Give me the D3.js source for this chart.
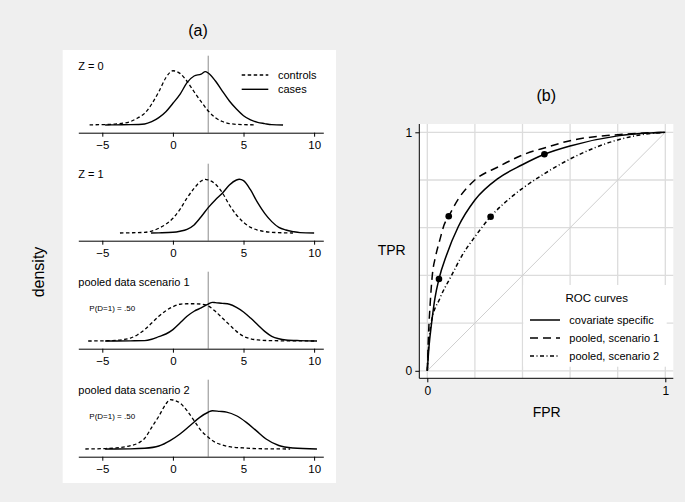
<!DOCTYPE html>
<html>
<head>
<meta charset="utf-8">
<script src="https://cdn.jsdelivr.net/npm/d3@7"></script>
<style>
  body { margin: 0; background: #efefef; }
  svg { display: block; font-family: "Liberation Sans", Arial, sans-serif; }
</style>
</head>
<body>
<svg width="685" height="502"></svg>
<script>
// ---------- DATA ----------
const densityTicks = [-5, 0, 5, 10];
const threshold = 2.5;
const panelLabels = ["Z = 0", "Z = 1", "pooled data scenario 1", "pooled data scenario 2"];
const prevalenceLabel = "P(D=1) = .50";
const groupLabels = ["controls", "cases"];

// [x, density]
const z0Controls = [[-5.9,0.001],[-5,0.002],[-4,0.006],[-3,0.02],[-2.5,0.04],[-2,0.067],[-1.5,0.12],[-1,0.19],[-0.5,0.27],[0,0.31],[0.5,0.295],[1,0.25],[1.5,0.19],[2,0.133],[2.5,0.08],[3,0.042],[3.5,0.02],[4,0.008],[5,0.002],[5.9,0.001]];
const z0Cases = [[-4.8,0],[-4,0.001],[-3,0.002],[-2,0.006],[-1.5,0.019],[-1,0.042],[-0.5,0.076],[0,0.124],[0.5,0.175],[1,0.242],[1.5,0.28],[2,0.291],[2.3,0.305],[2.5,0.297],[3,0.253],[3.5,0.194],[4,0.137],[4.5,0.091],[5,0.053],[5.5,0.029],[6,0.015],[6.5,0.008],[7,0.002],[7.8,0]];
const z1Controls = [[-3.75,0],[-3,0.001],[-2,0.004],[-1.5,0.011],[-1,0.027],[-0.5,0.05],[0,0.084],[0.5,0.135],[1,0.2],[1.5,0.255],[2,0.297],[2.3,0.307],[2.5,0.303],[3,0.28],[3.5,0.23],[4,0.16],[4.5,0.103],[5,0.061],[5.5,0.032],[6,0.017],[7,0.004],[8.5,0]];
const z1Cases = [[-1.55,0],[-1,0.001],[0,0.004],[0.5,0.01],[1,0.021],[1.5,0.046],[2,0.093],[2.5,0.145],[3,0.189],[3.5,0.227],[4,0.274],[4.5,0.303],[4.7,0.307],[5,0.299],[5.5,0.246],[6,0.173],[6.5,0.112],[7,0.065],[7.5,0.032],[8,0.017],[8.5,0.008],[9,0.002],[10,0]];
const pool1Controls = [[-6,0],[-5,0.001],[-4,0.004],[-3,0.017],[-2.5,0.036],[-2,0.065],[-1.5,0.103],[-1,0.141],[-0.5,0.173],[0,0.196],[0.5,0.21],[1,0.213],[1.5,0.213],[2,0.211],[2.5,0.2],[3,0.17],[3.5,0.131],[4,0.093],[4.5,0.055],[5,0.027],[5.5,0.013],[6,0.006],[7,0.002],[8,0.001],[10.2,0]];
const pool1Cases = [[-4.8,0],[-3,0.001],[-2,0.002],[-1.5,0.01],[-1,0.025],[-0.5,0.04],[0,0.065],[0.5,0.103],[1,0.141],[1.5,0.17],[2,0.189],[2.5,0.211],[2.8,0.221],[3,0.219],[3.5,0.215],[4,0.21],[4.5,0.192],[5,0.166],[5.5,0.131],[6,0.093],[6.5,0.055],[7,0.027],[7.5,0.013],[8,0.006],[9,0.002],[10.2,0]];
const pool2Controls = [[-6.2,0],[-5,0.002],[-4,0.006],[-3,0.019],[-2.5,0.032],[-2,0.061],[-1.5,0.124],[-1,0.187],[-0.5,0.257],[-0.2,0.282],[0,0.28],[0.5,0.263],[1,0.219],[1.5,0.162],[2,0.105],[2.5,0.067],[3,0.038],[3.5,0.023],[4,0.013],[5,0.006],[6,0.002],[8.3,0]];
const pool2Cases = [[-4.8,0],[-3,0.001],[-2,0.004],[-1,0.017],[-0.2,0.048],[0.5,0.086],[1.2,0.133],[1.9,0.181],[2.5,0.21],[2.8,0.219],[3.3,0.215],[3.8,0.211],[4.5,0.19],[5.2,0.152],[5.9,0.105],[6.6,0.057],[7.5,0.02],[8.5,0.006],[10.2,0]];

// ROC curves: [FPR, TPR]
const rocTicks = [0, 1];
const rocGrid = [0, 0.2, 0.4, 0.6, 0.8, 1];
const rocNames = ["covariate specific", "pooled, scenario 1", "pooled, scenario 2"];
const rocCovariate = [[0,0],[0.007,0.1],[0.018,0.2],[0.032,0.304],[0.049,0.385],[0.081,0.486],[0.13,0.604],[0.2,0.716],[0.298,0.807],[0.397,0.863],[0.492,0.908],[0.604,0.944],[0.8,0.985],[1,1]];
const rocPooled1 = [[0,0],[0.005,0.15],[0.012,0.28],[0.021,0.4],[0.035,0.48],[0.053,0.55],[0.07,0.61],[0.09,0.648],[0.13,0.72],[0.2,0.8],[0.3,0.856],[0.4,0.905],[0.5,0.937],[0.6,0.965],[0.8,0.99],[1,1]];
const rocPooled2 = [[0,0],[0.007,0.123],[0.016,0.2],[0.053,0.304],[0.102,0.4],[0.144,0.48],[0.2,0.562],[0.266,0.646],[0.355,0.73],[0.4,0.765],[0.474,0.815],[0.604,0.89],[0.8,0.968],[0.894,0.989],[1,1]];
const rocPointsCov = [[0.049,0.385],[0.492,0.908]];
const rocPointsPool1 = [[0.09,0.648]];
const rocPointsPool2 = [[0.266,0.646]];

// ---------- SETUP ----------
const svg = d3.select("svg");
const dashShort = "3.5,2.5";
const dashLong = "8,5";
const dashDot = "4,2.5,1,2.5";

// ---------- PANEL (a): DENSITIES ----------
svg.append("rect")
  .attr("x", 62.7).attr("y", 50)
  .attr("width", 273.3).attr("height", 433)
  .attr("fill", "#fff");

svg.append("text")
  .attr("x", 198).attr("y", 35.5)
  .attr("text-anchor", "middle")
  .attr("font-size", 16)
  .text("(a)");

svg.append("text")
  .attr("transform", "translate(38,272) rotate(-90)")
  .attr("dy", "0.35em")
  .attr("text-anchor", "middle")
  .attr("font-size", 16)
  .text("density");

const xD = d3.scaleLinear().domain([-6.7, 10.65]).range([78.3, 323.3]);

const panels = [
  [z0Controls, z0Cases],
  [z1Controls, z1Cases],
  [pool1Controls, pool1Cases],
  [pool2Controls, pool2Cases]
];

panels.forEach((pair, i) => {
  const axisY = 132.7 + i * 108;
  const yD = d3.scaleLinear().domain([0, 0.4]).range([axisY - 7.7, axisY - 77.7]);
  const line = d3.line()
    .x((d) => xD(d[0]))
    .y((d) => yD(d[1]))
    .curve(d3.curveMonotoneX);

  const g = svg.append("g");

  // threshold line
  g.append("line")
    .attr("x1", xD(threshold)).attr("x2", xD(threshold))
    .attr("y1", axisY - 77).attr("y2", axisY)
    .attr("stroke", "#8c8c8c").attr("stroke-width", 1);

  // x axis
  const axisG = g.append("g")
    .attr("transform", `translate(0,${axisY})`)
    .call(d3.axisBottom(xD).tickValues(densityTicks).tickSize(4).tickSizeOuter(0).tickPadding(4));
  axisG.selectAll("text").attr("font-size", 11.5).attr("fill", "#000")
    .attr("font-family", "Liberation Sans, Arial, sans-serif");
  axisG.selectAll("line, path").attr("stroke", "#000");

  // curves
  g.append("path").datum(pair[0])
    .attr("d", line)
    .attr("fill", "none").attr("stroke", "#000")
    .attr("stroke-width", 1.3).attr("stroke-dasharray", dashShort);
  g.append("path").datum(pair[1])
    .attr("d", line)
    .attr("fill", "none").attr("stroke", "#000")
    .attr("stroke-width", 1.4);

  // labels
  g.append("text")
    .attr("x", 78.3).attr("y", axisY - 62.5)
    .attr("font-size", 11)
    .text(panelLabels[i]);
  if (i >= 2) {
    g.append("text")
      .attr("x", 89.3).attr("y", axisY - 38)
      .attr("font-size", 8)
      .text(prevalenceLabel);
  }
});

// legend panel 1
const legA = svg.append("g");
[[75, dashShort], [89.3, null]].forEach(([ly, dash], k) => {
  legA.append("line")
    .attr("x1", 241.7).attr("x2", 268.3)
    .attr("y1", ly).attr("y2", ly)
    .attr("stroke", "#000").attr("stroke-width", 1.4)
    .attr("stroke-dasharray", dash);
  legA.append("text")
    .attr("x", 278).attr("y", ly + 4)
    .attr("font-size", 11)
    .text(groupLabels[k]);
});

// ---------- PANEL (b): ROC ----------
const xR = d3.scaleLinear().domain([0, 1]).range([427.3, 665.3]);
const yR = d3.scaleLinear().domain([0, 1]).range([370.8, 132.3]);
const plotLeft = 419.3, plotRight = 673.3, plotTop = 124, plotBottom = 378.3;

svg.append("text")
  .attr("x", 546.3).attr("y", 100.5)
  .attr("text-anchor", "middle")
  .attr("font-size", 16)
  .text("(b)");

svg.append("rect")
  .attr("x", plotLeft).attr("y", plotTop)
  .attr("width", plotRight - plotLeft).attr("height", plotBottom - plotTop)
  .attr("fill", "#fff");

const grid = svg.append("g").attr("stroke", "#dcdcdc").attr("stroke-width", 1.3);
grid.selectAll(".gx").data(rocGrid).enter().append("line")
  .attr("x1", (d) => xR(d)).attr("x2", (d) => xR(d))
  .attr("y1", plotTop).attr("y2", plotBottom);
grid.selectAll(".gy").data(rocGrid).enter().append("line")
  .attr("x1", plotLeft).attr("x2", plotRight)
  .attr("y1", (d) => yR(d)).attr("y2", (d) => yR(d));

// diagonal
svg.append("line")
  .attr("x1", xR(0)).attr("y1", yR(0))
  .attr("x2", xR(1)).attr("y2", yR(1))
  .attr("stroke", "#cfcfcf").attr("stroke-width", 1);

// legend box (drawn before curves, covers grid)
const legX = 523.3, legY = 285;
svg.append("rect")
  .attr("x", legX).attr("y", legY)
  .attr("width", 143.4).attr("height", 81.7)
  .attr("fill", "#fff");

const rocLine = d3.line()
  .x((d) => xR(d[0]))
  .y((d) => yR(d[1]))
  .curve(d3.curveMonotoneX);

const rocSeries = [
  [rocCovariate, null, rocPointsCov],
  [rocPooled1, dashLong, rocPointsPool1],
  [rocPooled2, dashDot, rocPointsPool2]
];

rocSeries.forEach(([pts, dash, dots]) => {
  svg.append("path").datum(pts)
    .attr("d", rocLine)
    .attr("fill", "none").attr("stroke", "#000")
    .attr("stroke-width", 1.5)
    .attr("stroke-dasharray", dash);
  svg.selectAll(null).data(dots).enter().append("circle")
    .attr("cx", (d) => xR(d[0])).attr("cy", (d) => yR(d[1]))
    .attr("r", 3.3).attr("fill", "#000");
});

// axes
const axL = svg.append("g")
  .attr("transform", `translate(${plotLeft},0)`)
  .call(d3.axisLeft(yR).tickValues(rocTicks).tickFormat(d3.format("d")).tickSize(4).tickPadding(3));
axL.select(".domain").remove();
const axB = svg.append("g")
  .attr("transform", `translate(0,${plotBottom})`)
  .call(d3.axisBottom(xR).tickValues(rocTicks).tickFormat(d3.format("d")).tickSize(4).tickPadding(4));
axB.select(".domain").remove();
[axL, axB].forEach((a) => {
  a.selectAll("text").attr("font-size", 12).attr("fill", "#000")
    .attr("font-family", "Liberation Sans, Arial, sans-serif");
  a.selectAll("line").attr("stroke", "#000");
});
svg.append("line")
  .attr("x1", plotLeft).attr("x2", plotLeft).attr("y1", plotTop).attr("y2", plotBottom)
  .attr("stroke", "#000");
svg.append("line")
  .attr("x1", plotLeft).attr("x2", plotRight).attr("y1", plotBottom).attr("y2", plotBottom)
  .attr("stroke", "#000");

svg.append("text")
  .attr("x", 391.7).attr("y", 250).attr("dy", "0.35em")
  .attr("text-anchor", "middle").attr("font-size", 14)
  .text("TPR");
svg.append("text")
  .attr("x", 546.7).attr("y", 411.7).attr("dy", "0.35em")
  .attr("text-anchor", "middle").attr("font-size", 14)
  .text("FPR");

// legend entries
svg.append("text")
  .attr("x", 596.7).attr("y", 301.5)
  .attr("text-anchor", "middle").attr("font-size", 11.5)
  .text("ROC curves");
rocSeries.forEach(([, dash], k) => {
  const ly = 320 + k * 18;
  svg.append("line")
    .attr("x1", 530).attr("x2", 560)
    .attr("y1", ly).attr("y2", ly)
    .attr("stroke", "#000").attr("stroke-width", 1.5)
    .attr("stroke-dasharray", dash);
  svg.append("text")
    .attr("x", 569.3).attr("y", ly + 4)
    .attr("font-size", 11)
    .text(rocNames[k]);
});
</script>
</body>
</html>
